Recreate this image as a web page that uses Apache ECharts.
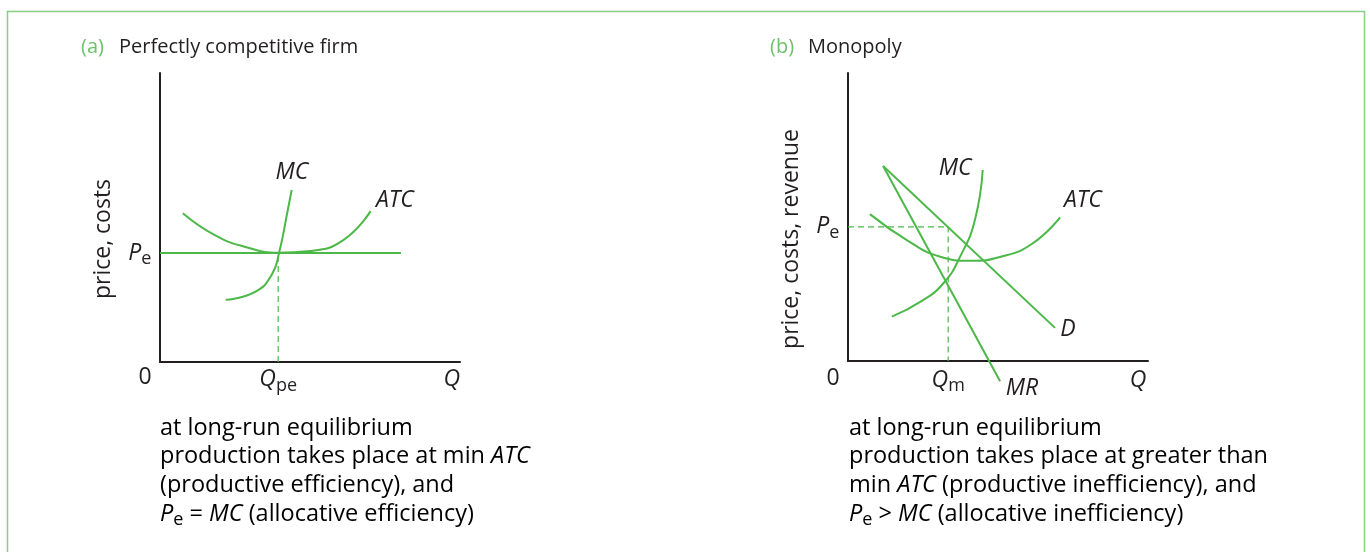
<!DOCTYPE html>
<html>
<head>
<meta charset="utf-8">
<script src="https://cdn.jsdelivr.net/npm/echarts@6/dist/echarts.min.js"></script>
<style>
html, body { margin: 0; padding: 0; background: #fff; }
#main { width: 1370px; height: 552px; }
</style>
</head>
<body>
<div id="main"></div>
<script>
// panel (a): perfectly competitive firm
var mcA = [[21.9, 21.5], [31.7, 24.3], [37.2, 30.1], [39.7, 37.8], [42.6, 52.6], [43.9, 59.5]];
var atcA = [[7.6, 51.5], [18.3, 43.9], [28.5, 39.8], [39.4, 37.8], [50, 38.4], [61.1, 42.2], [70.2, 52.2]];
var priceA = [[0, 37.7], [80.3, 37.7]];
var guideA = [[39.4, 0], [39.4, 37.7]];

// panel (b): monopoly
var demandB = [[11.7, 67.7], [69, 11.5]];
var mrB = [[11.7, 67.7], [50.7, -7]];
var mcB = [[14.6, 15.4], [24.5, 20.8], [31.8, 27], [37.5, 36.5], [42.3, 49], [44.9, 66.3]];
var atcB = [[7.3, 51], [19.6, 42], [30.5, 36.3], [40.7, 34.8], [51, 36.2], [61.5, 40.8], [70.7, 49.9]];
var guideB = [[0, 46.6], [33.4, 46.6], [33.4, 0]];

// curve and axis labels, anchored in data units
var labelsA = [
  ['{i|MC}', 44, 65.7], ['{i|ATC}', 78.3, 56], ['{i|P}{s|e}', -6.7, 37.7],
  ['{n|0}', -5, -5.5], ['{i|Q}{s|pe}', 39.4, -6.2], ['{i|Q}', 97.3, -6.2]
];
var labelsB = [
  ['{i|MC}', 35.7, 67], ['{i|ATC}', 78.3, 55.9], ['{i|P}{s|e}', -6.7, 46.6],
  ['{i|D}', 73.3, 10.8], ['{i|MR}', 58, -9.4],
  ['{n|0}', -5, -5.9], ['{i|Q}{s|m}', 33.4, -6.6], ['{i|Q}', 96.7, -6.6]
];

var notesA = [
  'at long-run equilibrium',
  'production takes place at min {i|ATC}',
  '(productive efficiency), and',
  '{i|P}{s|e} = {i|MC} (allocative efficiency)'
];
var notesB = [
  'at long-run equilibrium',
  'production takes place at greater than',
  'min {i|ATC} (productive inefficiency), and',
  '{i|P}{s|e} > {i|MC} (allocative inefficiency)'
];

var green = '#4cb848';
var ink = '#231f20';
var font = 'Open Sans';

function richSet(size, sub) {
  return {
    n: { fontFamily: font, fontSize: size, color: ink, lineHeight: 30 },
    i: { fontFamily: font, fontStyle: 'italic', fontSize: size, color: ink, lineHeight: 30 },
    s: { fontFamily: font, fontSize: sub, color: ink, lineHeight: sub, verticalAlign: 'bottom' }
  };
}
var richMark = richSet(23, 18);
var richNote = richSet(23.5, 18);

function xAxisFor(g) {
  return {
    type: 'value', gridIndex: g, min: 0, max: 100,
    axisLine: { show: true, onZero: false, lineStyle: { color: ink, width: 2 } },
    axisTick: { show: false }, axisLabel: { show: false }, splitLine: { show: false }
  };
}
function yAxisFor(g) {
  return {
    type: 'value', gridIndex: g, min: 0, max: 100,
    axisLine: { show: true, onZero: false, lineStyle: { color: ink, width: 2 } },
    axisTick: { show: false }, axisLabel: { show: false }, splitLine: { show: false }
  };
}

function curve(g, data, smooth) {
  return {
    type: 'line', xAxisIndex: g, yAxisIndex: g, data: data, smooth: smooth,
    symbol: 'none', clip: false, silent: true,
    lineStyle: { color: green, width: 2 }
  };
}
function guide(g, data) {
  return {
    type: 'line', xAxisIndex: g, yAxisIndex: g, data: data,
    symbol: 'none', clip: false, silent: true,
    lineStyle: { color: green, width: 1.2, type: [6, 4] }
  };
}
function labels(g, list) {
  return {
    type: 'scatter', xAxisIndex: g, yAxisIndex: g, clip: false, silent: true,
    symbolSize: 1, itemStyle: { color: '#ffffff', opacity: 0 },
    data: list.map(function (l) { return { value: [l[1], l[2]], name: l[0] }; }),
    label: {
      show: true, position: 'inside', align: 'center', verticalAlign: 'middle',
      color: ink, opacity: 1, textBorderWidth: 0,
      formatter: function (p) { return p.name; }, rich: richMark
    }
  };
}

function noteLines(x, lines) {
  return lines.map(function (t, k) {
    return {
      type: 'text', left: x, top: 416 + k * 28.7,
      style: { text: '{n|' + t.replace(/\{(i|s)\|([^}]*)\}/g, '}{$1|$2}{n|') + '}', rich: richNote }
    };
  });
}

function title(x, tag, text) {
  return [
    { type: 'text', left: x, top: 37, style: { text: tag, font: '20px ' + font, fill: '#6cc26a' } },
    { type: 'text', left: x + 38, top: 37, style: { text: text, font: '20px ' + font, fill: ink } }
  ];
}

function axisName(x, text) {
  return {
    type: 'text', x: x, y: 239, rotation: Math.PI / 2,
    style: { text: text, font: '23px ' + font, fill: ink, align: 'center', verticalAlign: 'middle' }
  };
}

var myChart = echarts.init(document.getElementById('main'));
var option = {
  backgroundColor: '#ffffff',
  animation: false,
  grid: [
    { left: 160, top: 73, width: 300, height: 289 },
    { left: 848, top: 73, width: 300, height: 288 }
  ],
  xAxis: [xAxisFor(0), xAxisFor(1)],
  yAxis: [yAxisFor(0), yAxisFor(1)],
  series: [
    guide(0, guideA),
    curve(0, priceA, false),
    curve(0, atcA, 0.5),
    curve(0, mcA, 0.5),
    labels(0, labelsA),
    guide(1, guideB),
    curve(1, demandB, false),
    curve(1, mrB, false),
    curve(1, atcB, 0.5),
    curve(1, mcB, 0.5),
    labels(1, labelsB)
  ],
  graphic: [
    { type: 'rect', shape: { x: 7.5, y: 11.5, width: 1357, height: 600 },
      style: { fill: 'none', stroke: '#86cf84', lineWidth: 1.5 }, silent: true },
    axisName(103, 'price, costs'),
    axisName(791, 'price, costs, revenue')
  ].concat(title(81, '(a)', 'Perfectly competitive firm'))
   .concat(title(770, '(b)', 'Monopoly'))
   .concat(noteLines(160, notesA))
   .concat(noteLines(849, notesB))
};
myChart.setOption(option);
</script>
</body>
</html>
